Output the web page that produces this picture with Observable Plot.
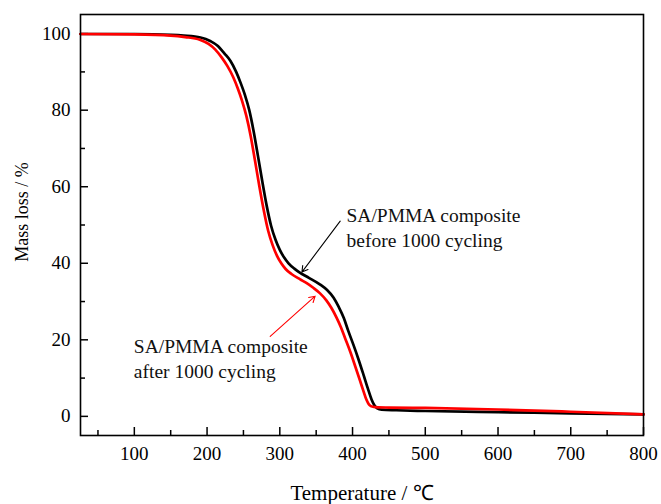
<!DOCTYPE html>
<html>
<head>
<meta charset="utf-8">
<script src="https://cdn.jsdelivr.net/npm/d3@7"></script>
<script src="https://cdn.jsdelivr.net/npm/@observablehq/plot@0.6"></script>
<style>
  html, body { margin: 0; padding: 0; background: #fff; }
  #chart svg { display: block; }
</style>
</head>
<body>
<div id="chart"></div>
<script>
// TGA curves of the SA/PMMA composite (temperature in °C, mass in %)
const beforeT = [26, 100, 150, 168, 191, 205, 214, 224, 232, 240, 246, 252, 258, 264, 270, 276, 282, 288, 294, 300, 306, 312, 320, 328, 340, 355, 365, 374, 381, 388, 394, 401, 408, 415, 421, 426, 430, 434, 440, 460, 500, 600, 700, 800];
const beforeMass = [99.9, 99.9, 99.7, 99.5, 99.0, 98.0, 96.9, 94.8, 92.9, 90.0, 87.2, 84.0, 80.0, 74.5, 68.0, 61.3, 55.0, 49.8, 46.2, 43.5, 41.5, 40.0, 38.6, 37.5, 36.2, 34.5, 33.0, 31.0, 28.6, 25.7, 22.4, 18.8, 15.0, 10.9, 7.3, 4.5, 2.9, 2.1, 1.75, 1.6, 1.4, 1.1, 0.8, 0.5];

const afterT = [26, 100, 150, 170, 190, 202, 211, 220, 228, 236, 242, 248, 254, 260, 266, 272, 278, 284, 290, 296, 302, 308, 316, 328, 337, 346, 355, 364, 371, 378, 384, 390, 397, 404, 410, 415, 419, 423, 428, 435, 450, 500, 600, 700, 800];
const afterMass = [99.9, 99.8, 99.5, 99.1, 98.4, 97.3, 95.9, 93.8, 91.5, 88.6, 85.8, 82.5, 78.5, 73.2, 66.7, 60.0, 53.8, 48.5, 44.8, 42.0, 40.0, 38.5, 37.2, 35.8, 34.8, 33.6, 32.2, 30.3, 28.3, 25.8, 23.3, 20.3, 16.8, 12.9, 9.5, 6.6, 4.4, 3.0, 2.5, 2.35, 2.3, 2.2, 1.8, 1.2, 0.5];

// Axis ticks
const xTicks = [100, 200, 300, 400, 500, 600, 700, 800];
const xMinorTicks = [50, 150, 250, 350, 450, 550, 650, 750];
const yTicks = [0, 20, 40, 60, 80, 100];
const yMinorTicks = [10, 30, 50, 70, 90];

// Curve labels and their pointers
const noteText = ["SA/PMMA composite", "before 1000 cycling", "SA/PMMA composite", "after 1000 cycling"];
const noteT = [391.7, 391.7, 99.3, 99.3];
const noteMass = [50.8, 44.2, 16.6, 10.0];
const pointerFromT = [383, 286.8];
const pointerFromMass = [51.0, 20.9];
const pointerToT = [330.4, 348.6];
const pointerToMass = [37.7, 31.4];
const pointerColor = ["black", "red"];

const before = beforeT.map((t, i) => ({t, m: beforeMass[i]}));
const after = afterT.map((t, i) => ({t, m: afterMass[i]}));
const notes = noteText.map((s, i) => ({s, t: noteT[i], m: noteMass[i]}));
const pointers = pointerFromT.map((t, i) => ({
  t1: t, m1: pointerFromMass[i], t2: pointerToT[i], m2: pointerToMass[i], c: pointerColor[i]
}));

const W = 661, H = 504, ML = 80, MR = 18, MT = 14, MB = 69;
const innerW = W - ML - MR, innerH = H - MT - MB;

const chart = Plot.plot({
  width: W,
  height: H,
  marginLeft: ML,
  marginRight: MR,
  marginTop: MT,
  marginBottom: MB,
  x: {domain: [26, 800]},
  y: {domain: [-5, 105]},
  style: {
    fontFamily: "'Liberation Serif', 'Times New Roman', serif",
    fontSize: "19px",
    color: "black",
    background: "white"
  },
  marks: [
    // tick labels
    Plot.axisX(xTicks, {tickSize: 0, tickPadding: 11, label: null, fontSize: 19}),
    Plot.axisY(yTicks, {tickSize: 0, tickPadding: 10, label: null, fontSize: 19}),
    // inward tick marks
    Plot.tickX(xTicks, {x: d => d, insetTop: innerH - 8, stroke: "black", strokeWidth: 1.5}),
    Plot.tickX(xMinorTicks, {x: d => d, insetTop: innerH - 5, stroke: "black", strokeWidth: 1.5}),
    Plot.tickY(yTicks, {y: d => d, insetRight: innerW - 8, stroke: "black", strokeWidth: 1.5}),
    Plot.tickY(yMinorTicks, {y: d => d, insetRight: innerW - 5, stroke: "black", strokeWidth: 1.5}),
    // curves
    Plot.line(before, {x: "t", y: "m", stroke: "black", strokeWidth: 2.7, curve: "monotone-x"}),
    Plot.line(after, {x: "t", y: "m", stroke: "#ff0000", strokeWidth: 2.7, curve: "monotone-x"}),
    // annotations
    Plot.arrow(pointers, {x1: "t1", y1: "m1", x2: "t2", y2: "m2", stroke: "c", strokeWidth: 1.1, headLength: 9}),
    Plot.text(notes, {x: "t", y: "m", text: "s", textAnchor: "start", lineAnchor: "bottom", fontSize: 19.5, fill: "#111"}),
    // axis titles
    Plot.text(["Temperature / ℃"], {text: d => d, frameAnchor: "bottom", textAnchor: "middle", dy: 64, lineAnchor: "bottom", fontSize: 21}),
    Plot.text(["Mass loss / %"], {text: d => d, frameAnchor: "left", textAnchor: "middle", dx: -58, dy: -13, rotate: -90, lineAnchor: "middle", fontSize: 18}),
    Plot.frame({stroke: "black", strokeWidth: 1.6})
  ]
});

document.getElementById("chart").appendChild(chart);
</script>
</body>
</html>
